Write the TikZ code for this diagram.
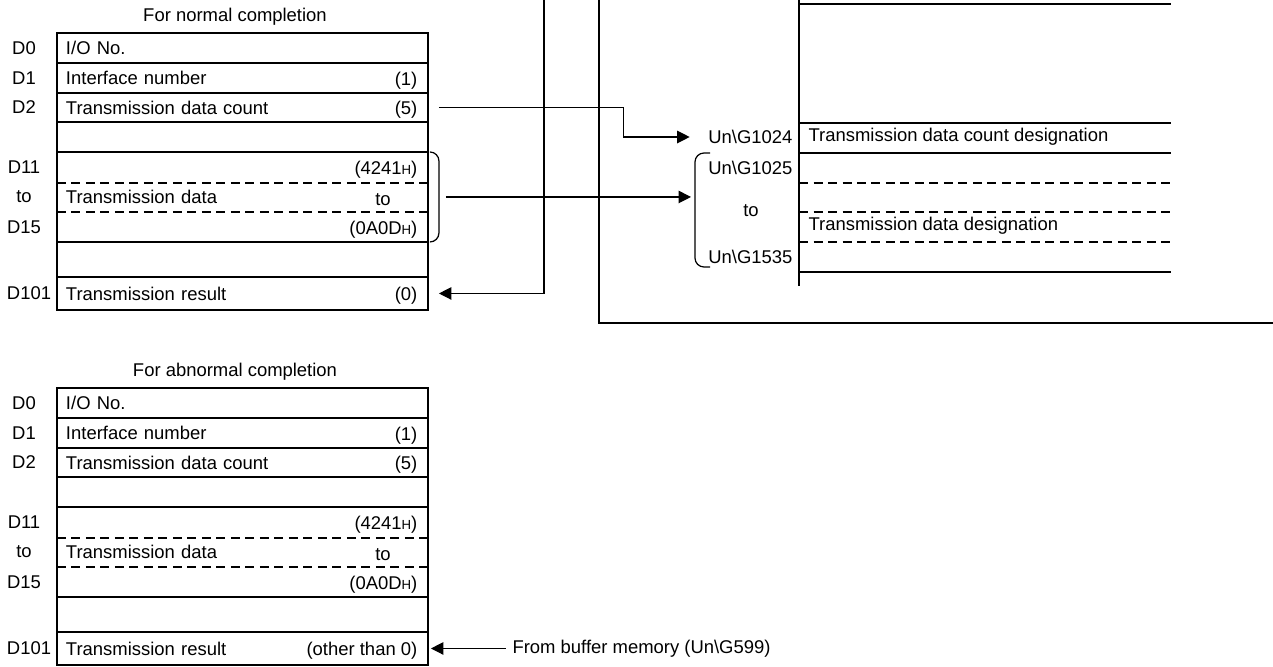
\documentclass[tikz,border=0pt]{standalone}
\usepackage{fontspec}
\setmainfont{Liberation Sans}
\usetikzlibrary{positioning,arrows.meta}
\newcommand{\hexH}{{\fontsize{7.5}{9}\selectfont H}}
\newcommand{\bs}{\textbackslash}

\begin{document}
\begin{tikzpicture}[
  x=0.02cm, y=-0.02cm,
  font=\fontsize{10.5}{12}\selectfont,
  line width=0.7pt,
  cell/.style={draw, anchor=north west, text width=7.06cm, align=left,
    inner xsep=0.18cm, inner ysep=0pt, outer sep=0pt},
  row/.style={cell, below=0pt of #1, anchor=north west},
  val/.style={inner sep=0pt, yshift=-0.05cm},
  dev/.style={inner sep=0pt},
  divider/.style={dash pattern=on 0.18cm off 0.11cm},
  flow/.style={-{Triangle[length=0.25cm,width=0.25cm]}},
  brk/.style={rounded corners=0.18cm}
]
\useasboundingbox (0,0) rectangle (1273,666);

  % both result tables
  \foreach \t/\oy/\ttl/\rv in {n/0/{For normal completion}/{(0)},
                               a/355/{For abnormal completion}/{(other than 0)}} {
    \node (\t-ttl) at (235,17+\oy) {\ttl};
    \node[cell, minimum height=0.6cm] (\t-io) at (57,33+\oy) {I/O No.};
    \node[row=\t-io.south west, minimum height=0.6cm] (\t-ifn) {Interface number};
    \node[row=\t-ifn.south west, minimum height=0.58cm] (\t-cnt) {Transmission data count};
    \node[row=\t-cnt.south west, minimum height=0.6cm] (\t-gap1) {};
    \node[row=\t-gap1.south west, minimum height=1.8cm] (\t-data) {Transmission data};
    \node[row=\t-data.south west, minimum height=0.7cm] (\t-gap2) {};
    \node[row=\t-gap2.south west, minimum height=0.66cm] (\t-res) {Transmission result};

    \draw[divider] ([yshift=-0.62cm]\t-data.north west) -- ([yshift=-0.62cm]\t-data.north east);
    \draw[divider] ([yshift=-1.2cm]\t-data.north west) -- ([yshift=-1.2cm]\t-data.north east);

    \node[val, left=0.2cm of \t-ifn.east] (\t-ifnv) {(1)};
    \node[val, left=0.2cm of \t-cnt.east] (\t-cntv) {(5)};
    \node[val, anchor=east] (\t-d1v) at (418,167+\oy) {(4241\hexH)};
    \node[val] (\t-dtov) at (383,197+\oy) {to};
    \node[val, anchor=east] (\t-d2v) at (418,227+\oy) {(0A0D\hexH)};
    \node[val, left=0.2cm of \t-res.east] (\t-resv) {\rv};

    \foreach \lb/\ly in {D0/48, D1/78, D2/107, D11/167, to/197, D15/227}
      \node[dev] (\t-\lb) at (24,\ly+\oy) {\lb};
    \node[dev] (\t-D101) at (29,293+\oy) {D101};
  }

  % bracket of the normal data block
  \draw[brk] ([xshift=0.04cm]n-data.north east) -- ++(9,0) -- ++(0,90) -- ++(-9,0);

  % buffer memory side
  \coordinate (rtop) at (799,0);
  \draw (rtop) -- (799,286);
  \foreach \ry in {4,123,153,272}
    \draw (799,\ry) -- (1171,\ry);
  \foreach \ry in {183,212,242}
    \draw[divider] (799,\ry) -- (1171,\ry);
  \node[dev, anchor=west] (gcntd) at (808,137) {Transmission data count designation};
  \node[dev, anchor=west] (gdatd) at (808,226) {Transmission data designation};

  \node[dev, anchor=east] (g1024) at (793,137) {Un\bs G1024};
  \node[dev, anchor=east] (g1025) at (793,168) {Un\bs G1025};
  \node[dev] (gto) at (751,211) {to};
  \node[dev, anchor=east] (g1535) at (793,257) {Un\bs G1535};
  \draw[brk] (710,153) -- (695,153) -- (695,267) -- (710,267);
  \coordinate (gbrace) at (691,210);

  % connectors
  \draw[flow] ([xshift=0.22cm]n-cnt.east) -| ([xshift=-1.68cm]g1024.west) -- ([xshift=-0.36cm]g1024.west);
  \draw[flow] ([xshift=0.36cm]n-data.east) -- (n-data.east -| gbrace);

  \coordinate (restop) at (544,0);
  \draw[flow] (restop) |- ([xshift=0.22cm]n-res.east);

  \coordinate (bustop) at (599,0);
  \coordinate (busend) at (1273,323);
  \draw (bustop) |- (busend);

  \node[dev, right=1.68cm of a-res.east] (frombuf) {From buffer memory (Un\bs G599)};
  \draw[flow] ([xshift=-0.12cm]frombuf.west) -- ([xshift=0.06cm]a-res.east);

\end{tikzpicture}
\end{document}
